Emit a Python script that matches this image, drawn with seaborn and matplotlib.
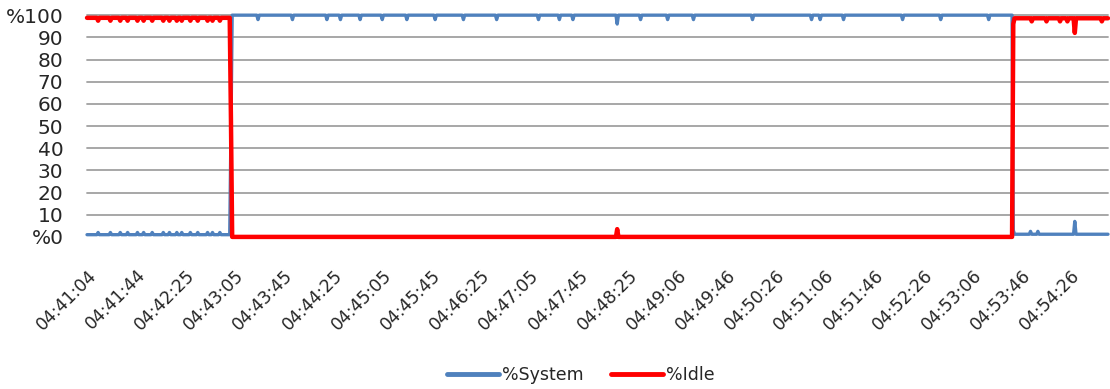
import numpy as np
import pandas as pd
import matplotlib
matplotlib.use("Agg")
import matplotlib.pyplot as plt
import seaborn as sns

# --- data (one sample per second, 831 samples) ---
n_samples = 831
tick_labels = ["04:41:04", "04:41:44", "04:42:25", "04:43:05", "04:43:45", "04:44:25",
               "04:45:05", "04:45:45", "04:46:25", "04:47:05", "04:47:45", "04:48:25",
               "04:49:06", "04:49:46", "04:50:26", "04:51:06", "04:51:46", "04:52:26",
               "04:53:06", "04:53:46", "04:54:26"]
tick_every = 40

# level segments: the value holds from seg_start until the next start
seg_start = [0, 117, 118, 753, 754]
seg_system = [1.0, 47.0, 100.0, 3.0, 1.2]
seg_idle = [98.8, 53.0, 0.0, 96.0, 98.6]

# single-sample blips on top of the levels
sys_blip_idx = [9, 19, 27, 33, 41, 46, 53, 62, 67, 73, 77, 84, 90, 98, 102, 108,
                139, 167, 195, 206, 222, 240, 260, 283, 306, 333, 367, 384, 395, 431,
                450, 472, 493, 541, 589, 596, 615, 663, 694, 733,
                767, 773, 803]
sys_blip_val = [2, 2, 2, 2, 2, 2, 2, 2, 2, 2, 2, 2, 2, 2, 2, 2,
                98, 98, 98, 98, 98, 98, 98, 98, 98, 98, 98, 98, 98, 96,
                98, 98, 98, 98, 98, 98, 98, 98, 98, 98,
                2.5, 2.5, 7]
idle_blip_idx = [9, 19, 27, 33, 41, 46, 53, 62, 67, 73, 77, 84, 90, 98, 102, 108,
                 431, 768, 780, 791, 797, 803, 825]
idle_blip_val = [97.5, 97.5, 97.5, 97.5, 97.5, 97.5, 97.5, 97.5, 97.5, 97.5, 97.5,
                 97.5, 97.5, 97.5, 97.5, 97.5,
                 3.5, 97.2, 97.2, 97.2, 97.2, 92, 97.2]

# --- build per-sample series from the readings ---
sample = np.arange(n_samples)
seg_id = np.searchsorted(seg_start, sample, side="right") - 1
system = np.array(seg_system)[seg_id]
idle = np.array(seg_idle)[seg_id]
system[sys_blip_idx] = sys_blip_val
idle[idle_blip_idx] = idle_blip_val

df = pd.DataFrame({"sample": sample, "%System": system, "%Idle": idle})

sns.set_style("white")
plt.rcParams["font.family"] = ["DejaVu Sans"]

fig = plt.figure(figsize=(11.1, 3.89), dpi=100)
ax = fig.add_axes([0.0784, 0.391, 0.9198, 0.570])

for y in range(10, 101, 10):
    ax.axhline(y, color="#a0a0a0", lw=1.3, zorder=0)

sns.lineplot(data=df, x="sample", y="%System", ax=ax, color="#4f81bd",
             linewidth=2.4, label="%System", estimator=None)
sns.lineplot(data=df, x="sample", y="%Idle", ax=ax, color="#ff0000",
             linewidth=3.2, label="%Idle", estimator=None)
for line in ax.get_lines():
    line.set_clip_on(False)

ax.set_xlim(0, n_samples - 1)
ax.set_ylim(0, 100)
ax.set_xlabel("")
ax.set_ylabel("")
for s in ax.spines.values():
    s.set_visible(False)

ax.set_yticks(range(0, 101, 10))
ax.set_yticklabels(["%0"] + [str(v) for v in range(10, 100, 10)] + ["%100"])
ax.set_xticks(np.arange(len(tick_labels)) * tick_every)
ax.set_xticklabels(tick_labels, rotation=45, ha="right", rotation_mode="anchor")
ax.tick_params(axis="y", length=0, pad=17, labelsize=14.5, labelcolor="#262626")
ax.tick_params(axis="x", length=0, pad=21, labelsize=12.5, labelcolor="#262626")

handles, labels = ax.get_legend_handles_labels()
ax.get_legend().remove()
leg = fig.legend(handles, labels, loc="center", bbox_to_anchor=(0.523, 0.036),
                 ncol=2, frameon=False, fontsize=12.5, handlelength=3.0,
                 columnspacing=1.6, handletextpad=0.15)
for t in leg.get_texts():
    t.set_color("#262626")
for h in leg.get_lines():
    h.set_linewidth(3.5)

fig.savefig("out.png", dpi=100)
